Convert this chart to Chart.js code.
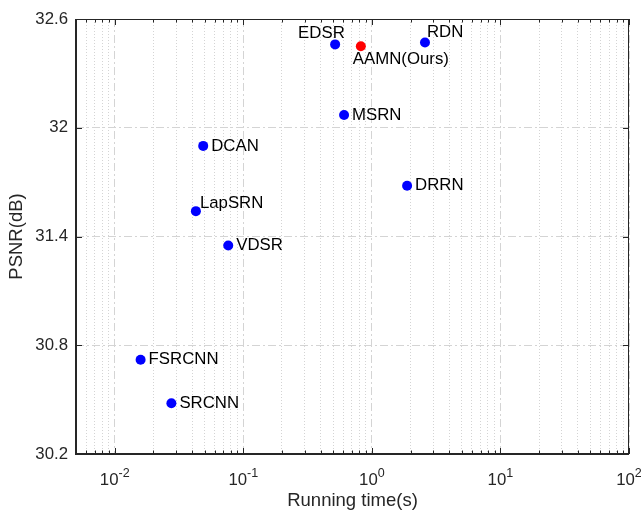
<!DOCTYPE html>
<html>
<head>
<meta charset="utf-8">
<script src="https://cdn.jsdelivr.net/npm/chart.js@4.4.1/dist/chart.umd.min.js"></script>
<style>
  html, body { margin: 0; padding: 0; background: #fff; }
  #wrap { width: 641px; height: 512px; position: relative; }
</style>
</head>
<body>
<div id="wrap"><canvas id="psnrChart"></canvas></div>
<script>
const methods = ["SRCNN", "FSRCNN", "VDSR", "LapSRN", "DCAN", "DRRN", "MSRN", "EDSR", "RDN", "AAMN(Ours)"];
const runTimes = [0.0276, 0.0159, 0.0764, 0.0428, 0.0488, 1.88, 0.608, 0.518, 2.59, 0.821];
const psnrValues = [30.48, 30.72, 31.35, 31.54, 31.90, 31.68, 32.07, 32.46, 32.47, 32.45];
const yTickValues = [30.2, 30.8, 31.4, 32, 32.6];
const xDecadeExponents = [-2, -1, 0, 1, 2];

const FONT = "'Liberation Sans', Arial, Helvetica, sans-serif";
const AXIS_COLOR = "#262626";
const TEXT_SIZE = 16.8;

// label position relative to the marker centre (px)
const labelOffsets = {
  "EDSR": [-37, -11],
  "RDN": [2, -10],
  "AAMN(Ours)": [-8, 13],
  "LapSRN": [4, -8],
};
const defaultOffset = [8, 0];

function isDecade(v) {
  const l = Math.log10(v);
  return Math.abs(l - Math.round(l)) < 1e-9;
}

// box + inward ticks + 10^n labels, MATLAB style
const axesBox = {
  id: "axesBox",
  beforeDatasetsDraw(chart) {
    const { ctx, chartArea: a, scales: { x, y } } = chart;
    ctx.save();
    ctx.strokeStyle = AXIS_COLOR;
    ctx.lineWidth = 1;
    ctx.beginPath();
    x.ticks.forEach((t) => {
      const px = Math.round(x.getPixelForValue(t.value)) + 0.5;
      const len = isDecade(t.value) ? 6 : 3.5;
      ctx.moveTo(px, a.bottom);
      ctx.lineTo(px, a.bottom - len);
      ctx.moveTo(px, a.top);
      ctx.lineTo(px, a.top + len);
    });
    y.ticks.forEach((t) => {
      const py = Math.round(y.getPixelForValue(t.value)) + 0.5;
      ctx.moveTo(a.left, py);
      ctx.lineTo(a.left + 6, py);
      ctx.moveTo(a.right, py);
      ctx.lineTo(a.right - 6, py);
    });
    ctx.stroke();

    ctx.lineWidth = 1;
    ctx.beginPath();
    ctx.moveTo(a.left, a.top + 0.5);
    ctx.lineTo(a.right - 0.5, a.top + 0.5);
    ctx.lineTo(a.right - 0.5, a.bottom);
    ctx.stroke();
    ctx.lineWidth = 2;
    ctx.beginPath();
    ctx.moveTo(a.left, a.top);
    ctx.lineTo(a.left, a.bottom);
    ctx.lineTo(a.right, a.bottom);
    ctx.stroke();

    ctx.fillStyle = AXIS_COLOR;
    ctx.textBaseline = "alphabetic";
    ctx.textAlign = "left";
    xDecadeExponents.forEach((e) => {
      const px = x.getPixelForValue(Math.pow(10, e));
      ctx.font = TEXT_SIZE + "px " + FONT;
      const wBase = ctx.measureText("10").width;
      ctx.font = "12.5px " + FONT;
      const wExp = ctx.measureText(String(e)).width;
      const x0 = px - (wBase + wExp) / 2;
      ctx.font = TEXT_SIZE + "px " + FONT;
      ctx.fillText("10", x0, a.bottom + 31);
      ctx.font = "12.5px " + FONT;
      ctx.fillText(String(e), x0 + wBase, a.bottom + 23);
    });
    ctx.restore();
  },
};

const pointLabels = {
  id: "pointLabels",
  afterDatasetsDraw(chart) {
    const { ctx } = chart;
    const meta = chart.getDatasetMeta(0);
    ctx.save();
    ctx.font = TEXT_SIZE + "px " + FONT;
    ctx.fillStyle = "#000";
    ctx.textAlign = "left";
    ctx.textBaseline = "middle";
    meta.data.forEach((pt, i) => {
      const name = methods[i];
      const [dx, dy] = labelOffsets[name] || defaultOffset;
      ctx.fillText(name, pt.x + dx, pt.y + dy);
    });
    ctx.restore();
  },
};

const ctx = document.getElementById("psnrChart").getContext("2d");
const psnrChart = new Chart(ctx, {
  type: "scatter",
  data: {
    datasets: [
      {
        label: "PSNR",
        data: runTimes.map((t, i) => ({ x: t, y: psnrValues[i] })),
        pointBackgroundColor: methods.map((m) => (m === "AAMN(Ours)" ? "#ff0000" : "#0000ff")),
        pointBorderWidth: 0,
        pointRadius: 5,
        pointHoverRadius: 5,
      },
    ],
  },
  options: {
    responsive: true,
    maintainAspectRatio: false,
    animation: false,
    events: [],
    layout: {
      padding: { left: 0, top: 19, right: 12, bottom: 0 },
    },
    plugins: {
      legend: { display: false },
      tooltip: { enabled: false },
    },
    scales: {
      x: {
        type: "logarithmic",
        min: 0.005,
        max: 100,
        afterBuildTicks(scale) {
          const ticks = [];
          for (let e = -3; e <= 2; e++) {
            for (let k = 1; k <= 9; k++) {
              const v = Number((k * Math.pow(10, e)).toPrecision(6));
              if (v >= 0.005 - 1e-12 && v <= 100 + 1e-9) ticks.push({ value: v });
            }
          }
          scale.ticks = ticks;
        },
        afterFit(scale) {
          scale.height = 58;
        },
        ticks: { display: false },
        grid: {
          drawTicks: false,
          color: (c) => (c.tick && isDecade(c.tick.value) ? "#d4d4d4" : "#d4d4d4"),
        },
        border: {
          display: false,
          dash: (c) => (c.tick && isDecade(c.tick.value) ? [8, 3, 2, 3] : [1, 2]),
        },
        title: {
          display: true,
          text: "Running time(s)",
          color: AXIS_COLOR,
          font: { family: FONT, size: 18.5 },
          padding: { top: 0, bottom: 0 },
        },
      },
      y: {
        min: 30.2,
        max: 32.6,
        afterBuildTicks(scale) {
          scale.ticks = yTickValues.map((v) => ({ value: v }));
        },
        afterFit(scale) {
          scale.width = 76;
        },
        ticks: {
          color: AXIS_COLOR,
          font: { family: FONT, size: TEXT_SIZE },
          padding: 8,
          callback: (v) => String(v),
        },
        grid: {
          drawTicks: false,
          color: "#d4d4d4",
        },
        border: {
          display: false,
          dash: [8, 3, 2, 3],
        },
        title: {
          display: true,
          text: "PSNR(dB)",
          color: AXIS_COLOR,
          font: { family: FONT, size: 18.5 },
          padding: { top: 6, bottom: 0 },
        },
      },
    },
  },
  plugins: [axesBox, pointLabels],
});
</script>
</body>
</html>
